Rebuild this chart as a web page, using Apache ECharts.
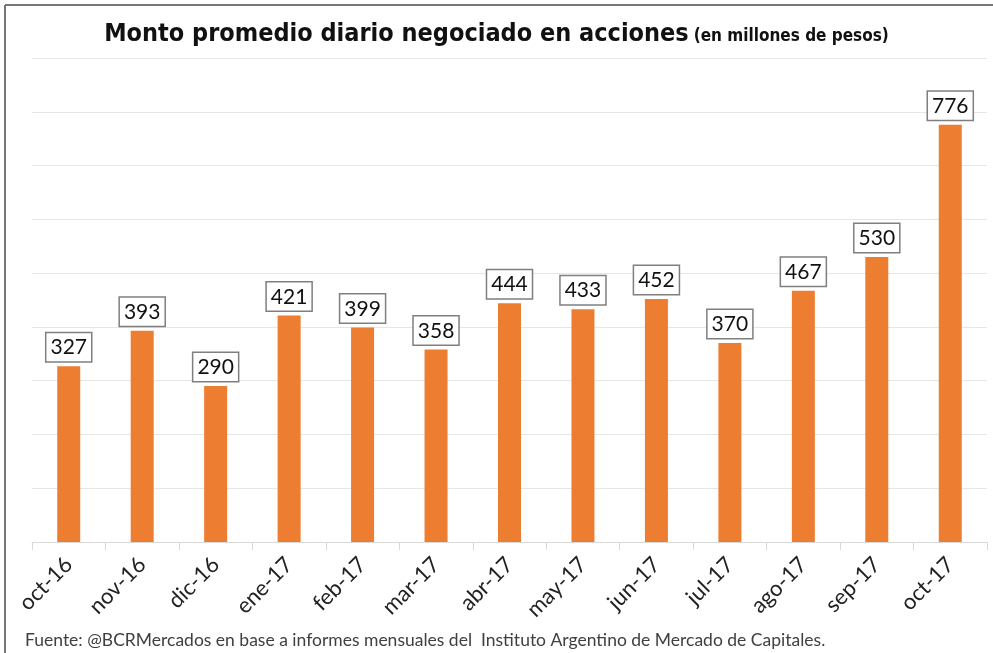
<!DOCTYPE html>
<html>
<head>
<meta charset="utf-8">
<script src="https://cdn.jsdelivr.net/npm/echarts@6/dist/echarts.min.js"></script>
<style>
html,body{margin:0;padding:0;background:#fff;}
#main{width:993px;height:653px;}
</style>
</head>
<body>
<div id="main"></div>
<script>
var meses = ['oct-16','nov-16','dic-16','ene-17','feb-17','mar-17','abr-17','may-17','jun-17','jul-17','ago-17','sep-17','oct-17'];
var montos = [327, 393, 290, 421, 399, 358, 444, 433, 452, 370, 467, 530, 776];

var chart = echarts.init(document.getElementById('main'));
var option = {
    backgroundColor: '#fff',
    animation: false,
    title: {
        text: '{a|Monto promedio diario negociado en acciones} {b|(en millones de pesos)}',
        left: 'center',
        top: 17,
        textStyle: {
            rich: {
                a: {fontFamily: '"DejaVu Sans Condensed", sans-serif', fontWeight: 'bold', fontSize: 25, color: '#111'},
                b: {fontFamily: '"DejaVu Sans Condensed", sans-serif', fontWeight: 'bold', fontSize: 17, color: '#111', padding: [4, 0, 0, 0]}
            }
        }
    },
    grid: {left: 32, right: 6, top: 58, bottom: 111, containLabel: false},
    xAxis: {
        type: 'category',
        data: meses,
        axisLine: {lineStyle: {color: '#d9d9d9', width: 1}},
        axisTick: {show: true, length: 8, lineStyle: {color: '#d9d9d9'}},
        axisLabel: {
            rotate: 45,
            fontFamily: 'Lato, "Open Sans", sans-serif',
            fontSize: 22,
            color: '#222',
            margin: 19
        }
    },
    yAxis: {
        type: 'value',
        min: 0,
        max: 900,
        interval: 100,
        axisLabel: {show: false},
        axisLine: {show: false},
        axisTick: {show: false},
        splitLine: {lineStyle: {color: '#e6e6e6', width: 1}}
    },
    series: [{
        type: 'bar',
        data: montos,
        barWidth: 23,
        itemStyle: {color: '#ED7D31'},
        label: {
            show: true,
            position: 'top',
            distance: 5,
            fontFamily: 'Lato, "Open Sans", sans-serif',
            fontSize: 21,
            color: '#111',
            backgroundColor: '#fff',
            borderColor: '#7f7f7f',
            borderWidth: 1.5,
            padding: [4, 4, 3, 4]
        }
    }],
    graphic: [
        {type: 'line', shape: {x1: 5, y1: 5, x2: 993, y2: 5}, style: {stroke: '#777', lineWidth: 2}},
        {type: 'line', shape: {x1: 5, y1: 5, x2: 5, y2: 653}, style: {stroke: '#777', lineWidth: 2}},
        {
            type: 'text',
            left: 25,
            top: 631,
            style: {
                text: 'Fuente: @BCRMercados en base a informes mensuales del  Instituto Argentino de Mercado de Capitales.',
                font: '17.5px Lato, "Open Sans", sans-serif',
                fill: '#404040'
            }
        }
    ]
};
chart.setOption(option);
</script>
</body>
</html>
